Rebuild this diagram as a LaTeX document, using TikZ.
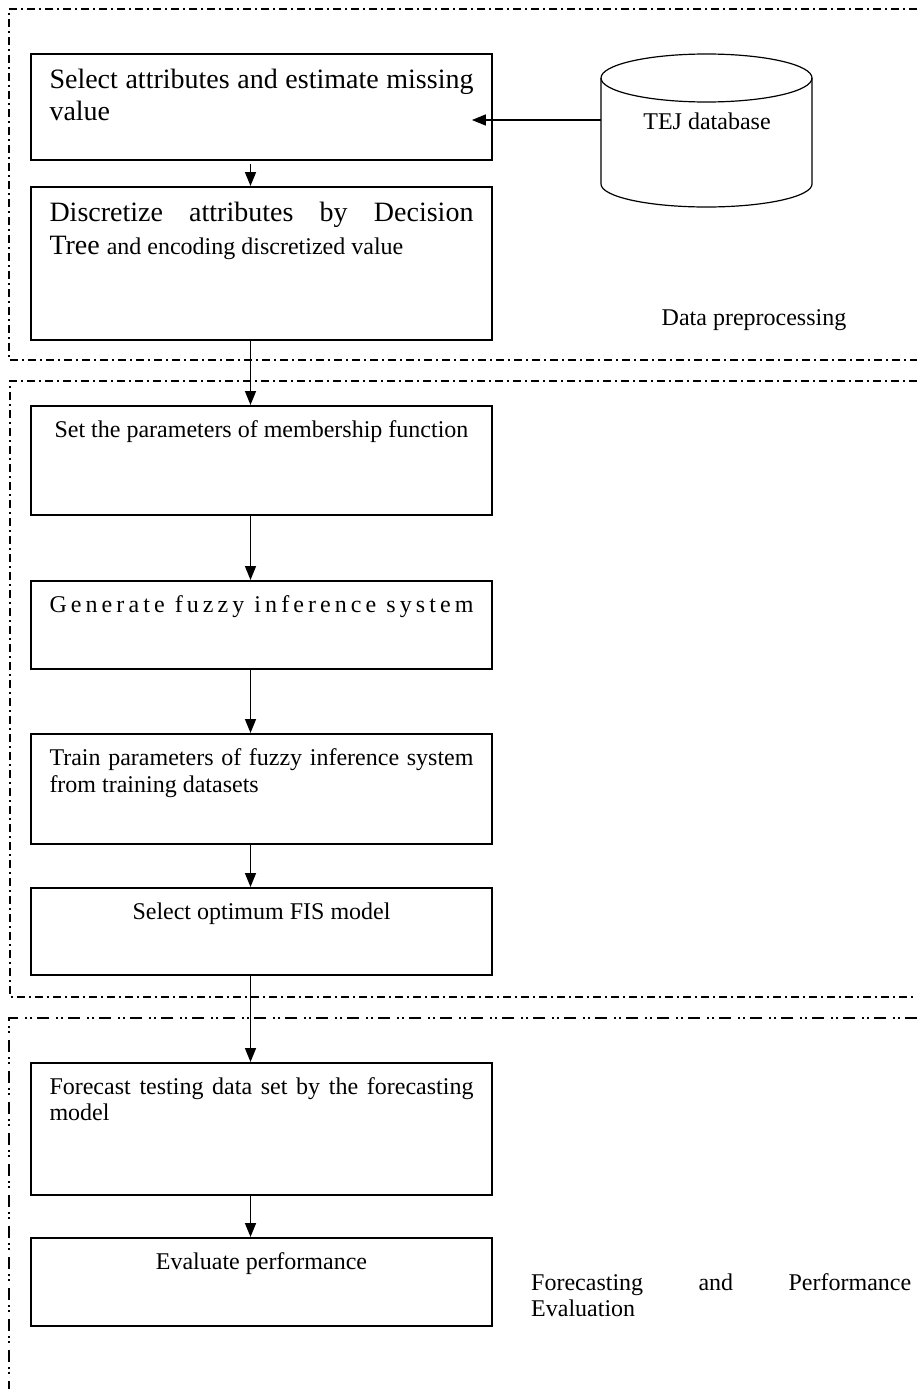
\documentclass[tikz,border=0pt]{standalone}
\usepackage{fontspec}
\setmainfont{Liberation Serif}
\newfontfamily\spacedfont[LetterSpace=17]{Liberation Serif}
\usepackage{tikz}
\usetikzlibrary{arrows.meta,calc}

% text block inside a step box: height, then text
\newcommand{\boxtext}[2]{\parbox[t][#1][t]{424pt}{\vspace*{15pt}#2}}

\begin{document}
\begin{tikzpicture}[x=1pt, y=-1pt,
    every node/.style={font=\fontsize{24}{26.5}\selectfont},
    stepbox/.style={draw, line width=1.8pt, anchor=north, inner xsep=18.5pt, inner ysep=0pt},
    flow/.style={-{Triangle[length=14pt,width=11pt]}, line width=1.5pt},
    zone/.style={line width=1.1pt, dash pattern=on 8pt off 4pt on 2pt off 4pt},
    zonetwo/.style={line width=1.5pt, dash pattern=on 12pt off 5pt on 2pt off 3pt on 2pt off 7pt}]
  \useasboundingbox (0,0) rectangle (917,1389);

  % the three dash-dot regions
  \draw[zone] (917,9) -- (9,9) -- (9,360) -- (917,360);
  \draw[zone] (917,381) -- (10,381) -- (10,997) -- (917,997);
  \draw[zonetwo] (917,1018) -- (9,1018) -- (9,1389);

  % steps
  \node[stepbox] (b1) at (261.5,53) {\boxtext{106pt}{\fontsize{28}{32.5}\selectfont Select attributes and estimate missing\linebreak value}};
  \node[stepbox] (b2) at (261.5,186) {\boxtext{153pt}{\fontsize{28}{33}\selectfont Discretize attributes by Decision\linebreak Tree {\fontsize{24}{26.5}\selectfont and encoding discretized value}}};
  \node[stepbox] (b3) at (261.5,405) {\boxtext{109pt}{\centering Set the parameters of membership function}};
  \node[stepbox] (b4) at (261.5,580) {\boxtext{88pt}{\centering\spacedfont Generate fuzzy inference system}};
  \node[stepbox] (b5) at (261.5,733) {\boxtext{110pt}{Train parameters of fuzzy inference system\linebreak from training datasets}};
  \node[stepbox] (b6) at (261.5,887) {\boxtext{87pt}{\centering Select optimum FIS model}};
  \node[stepbox] (b7) at (261.5,1062) {\boxtext{132pt}{\fontsize{24}{26}\selectfont Forecast testing data set by the forecasting\linebreak model}};
  \node[stepbox] (b8) at (261.5,1237) {\boxtext{88pt}{\centering Evaluate performance}};

  % database
  \draw[line width=1.2pt] (601,78) -- (601,184) arc[start angle=180, end angle=360, x radius=105.5pt, y radius=23pt] -- (812,78);
  \draw[line width=1.2pt] (706.5,78) ellipse [x radius=105.5pt, y radius=24pt];
  \node[anchor=base] (db) at (707,129) {TEJ database};
  \coordinate (dbin) at (601,120);

  % region labels
  \node[anchor=base] (prep) at (754,325) {Data preprocessing};
  \node[anchor=base west, inner sep=0pt] (fpe) at (531,1290) {\parbox[t]{380pt}{Forecasting and Performance\linebreak Evaluation}};

  \draw[flow] (dbin) -- ([xshift=-21pt]dbin -| b1.east);
  \draw[flow, shorten <=3pt] ([xshift=-11pt]b1.south) -- ([xshift=-11pt]b2.north);
  \draw[flow] ([xshift=-11pt]b2.south) -- ([xshift=-11pt]b3.north);
  \draw[flow] ([xshift=-11pt]b3.south) -- ([xshift=-11pt]b4.north);
  \draw[flow] ([xshift=-11pt]b4.south) -- ([xshift=-11pt]b5.north);
  \draw[flow] ([xshift=-11pt]b5.south) -- ([xshift=-11pt]b6.north);
  \draw[flow] ([xshift=-11pt]b6.south) -- ([xshift=-11pt]b7.north);
  \draw[flow] ([xshift=-11pt]b7.south) -- ([xshift=-11pt]b8.north);
\end{tikzpicture}
\end{document}
